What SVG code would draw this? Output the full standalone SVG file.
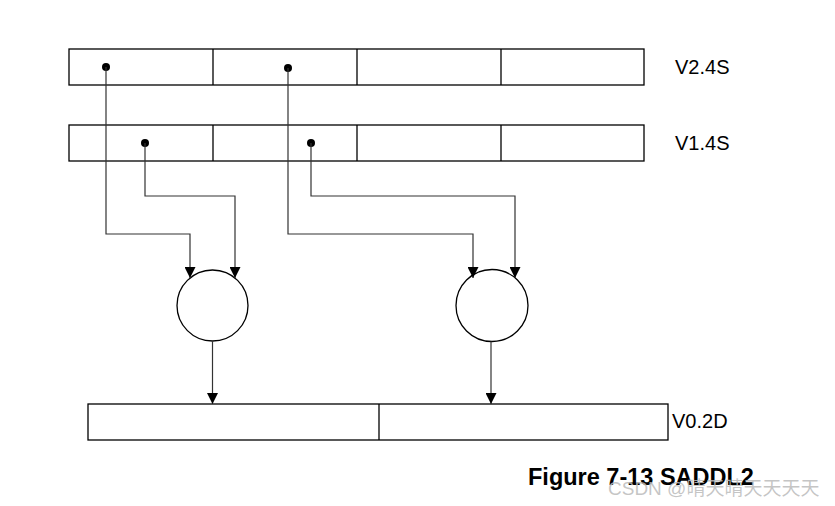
<svg xmlns="http://www.w3.org/2000/svg" width="835" height="506" viewBox="0 0 835 506">
<style>
.box{fill:#fff;stroke:#000;stroke-width:1.3}
.wire{fill:none;stroke:#333;stroke-width:1.2}
.lbl{font-family:"Liberation Sans",Arial,sans-serif;font-size:20px;fill:#000}
</style>
<defs>
<marker id="ah" viewBox="0 0 10 10" refX="10" refY="5" markerWidth="11" markerHeight="11" markerUnits="userSpaceOnUse" orient="auto">
<path d="M0,0 L10,5 L0,10 Z" fill="#000"/>
</marker>
</defs>
<rect width="835" height="506" fill="#fff"/>
<g id="v2">
<rect class="box" x="69" y="49" width="575" height="36"/>
<line class="box" x1="213" y1="49" x2="213" y2="85"/>
<line class="box" x1="357" y1="49" x2="357" y2="85"/>
<line class="box" x1="501" y1="49" x2="501" y2="85"/>
<text class="lbl" x="675" y="74">V2.4S</text>
</g>
<g id="v1">
<rect class="box" x="69" y="125" width="575" height="36"/>
<line class="box" x1="213" y1="125" x2="213" y2="161"/>
<line class="box" x1="357" y1="125" x2="357" y2="161"/>
<line class="box" x1="501" y1="125" x2="501" y2="161"/>
<text class="lbl" x="675" y="150">V1.4S</text>
</g>
<g id="add1"><circle class="box" cx="212.5" cy="305.5" r="35.5"/></g>
<g id="add2"><circle class="box" cx="492" cy="305.5" r="36"/></g>
<g id="v0">
<rect class="box" x="88" y="404" width="580" height="36"/>
<line class="box" x1="379" y1="404" x2="379" y2="440"/>
<text class="lbl" x="672" y="428">V0.2D</text>
</g>
<g id="connectors">
<circle cx="106" cy="67" r="4" fill="#000"/>
<circle cx="288" cy="68" r="4" fill="#000"/>
<circle cx="145" cy="143" r="4" fill="#000"/>
<circle cx="311" cy="143" r="4" fill="#000"/>
<path class="wire" d="M106,67 V234 H190 V278" marker-end="url(#ah)"/>
<path class="wire" d="M145,143 V196 H235 V278" marker-end="url(#ah)"/>
<path class="wire" d="M288,68 V234 H473 V278" marker-end="url(#ah)"/>
<path class="wire" d="M311,143 V196 H515 V278" marker-end="url(#ah)"/>
<path class="wire" d="M212.5,341 V404" marker-end="url(#ah)"/>
<path class="wire" d="M491,341.5 V404" marker-end="url(#ah)"/>
</g>
<text x="528" y="485" font-family="Liberation Sans,Arial,sans-serif" font-size="23.5" font-weight="bold" fill="#000">Figure 7-13 SADDL2</text>
<text x="608" y="495" font-family="Liberation Sans,'Noto Sans CJK SC',sans-serif" font-size="19" fill="#bbb" fill-opacity="0.85">CSDN @晴天晴天天天天</text>
</svg>
